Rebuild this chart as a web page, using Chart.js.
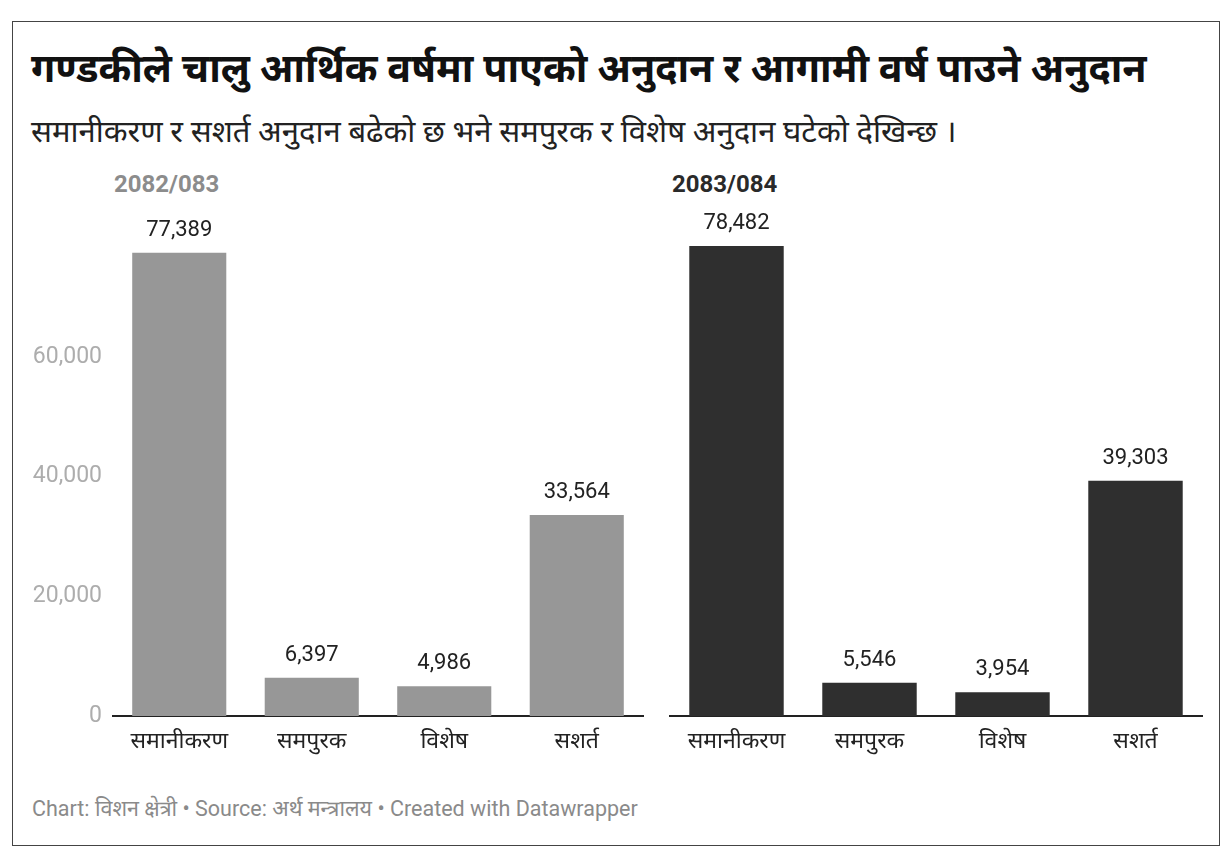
<!DOCTYPE html>
<html>
<head>
<meta charset="utf-8">
<script src="https://cdn.jsdelivr.net/npm/chart.js@4"></script>
<style>
  body { margin: 0; background: #fff; width: 1231px; height: 857px; position: relative; overflow: hidden;
         font-family: Roboto, "Noto Sans Devanagari", "Noto Sans", sans-serif; }
  #frame { position: absolute; left: 12px; top: 21px; width: 1206px; height: 823px; border: 1px solid #444; }
  #title { position: absolute; left: 31px; top: 43px; font-size: 39.5px; font-weight: bold; color: #111; white-space: nowrap; line-height: 1.3; }
  #subtitle { position: absolute; left: 31px; top: 112px; font-size: 31px; color: #222; white-space: nowrap; line-height: 1.3; }
  .panel { position: absolute; top: 170px; font-size: 24px; font-weight: bold; white-space: nowrap; line-height: 1.2; }
  #footer { position: absolute; left: 32px; top: 796px; font-size: 21.5px; color: #8a8a8a; white-space: nowrap; line-height: 1.2; }
  canvas { position: absolute; }
</style>
</head>
<body>
<div id="frame"></div>
<div id="title">गण्डकीले चालु आर्थिक वर्षमा पाएको अनुदान र आगामी वर्ष पाउने अनुदान</div>
<div id="subtitle">समानीकरण र सशर्त अनुदान बढेको छ भने समपुरक र विशेष अनुदान घटेको देखिन्छ ।</div>
<div class="panel" style="left:114px;color:#8c8c8c;">2082/083</div>
<div class="panel" style="left:672px;color:#2a2a2a;">2083/084</div>
<div style="position:absolute;left:0;top:160px;width:650px;height:620px;"><canvas id="left"></canvas></div>
<div style="position:absolute;left:660px;top:160px;width:548px;height:620px;"><canvas id="right"></canvas></div>
<div id="footer">Chart: विशन क्षेत्री • Source: अर्थ मन्त्रालय • Created with Datawrapper</div>
<script>
// categories and values
const categories = ['समानीकरण', 'समपुरक', 'विशेष', 'सशर्त'];
const values2082 = [77389, 6397, 4986, 33564];
const values2083 = [78482, 5546, 3954, 39303];
const yTicks = [0, 20000, 40000, 60000];

// value labels above each bar
const valueLabels = {
    id: 'valueLabels',
    afterDatasetsDraw(chart) {
        const ctx = chart.ctx;
        ctx.save();
        ctx.font = '22px Roboto, sans-serif';
        ctx.fillStyle = '#222';
        ctx.textAlign = 'center';
        ctx.textBaseline = 'alphabetic';
        chart.getDatasetMeta(0).data.forEach((bar, i) => {
            const v = chart.data.datasets[0].data[i];
            ctx.fillText(v.toLocaleString('en-US'), bar.x, bar.y - 17);
        });
        ctx.restore();
    }
};

function makeChart(id, data, color, showY, padLeft, padRight) {
    return new Chart(document.getElementById(id), {
        type: 'bar',
        data: {
            labels: categories,
            datasets: [{
                data,
                backgroundColor: color,
                barPercentage: 0.71,
                categoryPercentage: 1.0
            }]
        },
        options: {
            responsive: true,
            maintainAspectRatio: false,
            animation: false,
            layout: { padding: { left: padLeft, right: padRight, top: 77, bottom: 0 } },
            plugins: { legend: { display: false }, tooltip: { enabled: false } },
            scales: {
                x: {
                    grid: { display: false },
                    border: { display: true, color: '#222', width: 2 },
                    ticks: { color: '#222', font: { size: 23, family: 'Roboto, "Noto Sans Devanagari", sans-serif' }, padding: 4 },
                    afterFit(scale) { scale.height = 64; }
                },
                y: {
                    display: showY,
                    min: 0,
                    max: 80000,
                    grid: { display: false },
                    border: { display: false },
                    afterBuildTicks(scale) { scale.ticks = yTicks.map(v => ({ value: v })); },
                    ticks: {
                        color: '#adadad',
                        padding: 3,
                        font: { size: 23, family: 'Roboto, sans-serif' },
                        callback: v => v.toLocaleString('en-US')
                    },
                    afterFit(scale) { if (showY) scale.width = 93; }
                }
            }
        },
        plugins: [valueLabels]
    });
}

makeChart('left', values2082, '#979797', true, 20, 7);
makeChart('right', values2083, '#2f2f2f', false, 10, 6);
</script>
</body>
</html>
